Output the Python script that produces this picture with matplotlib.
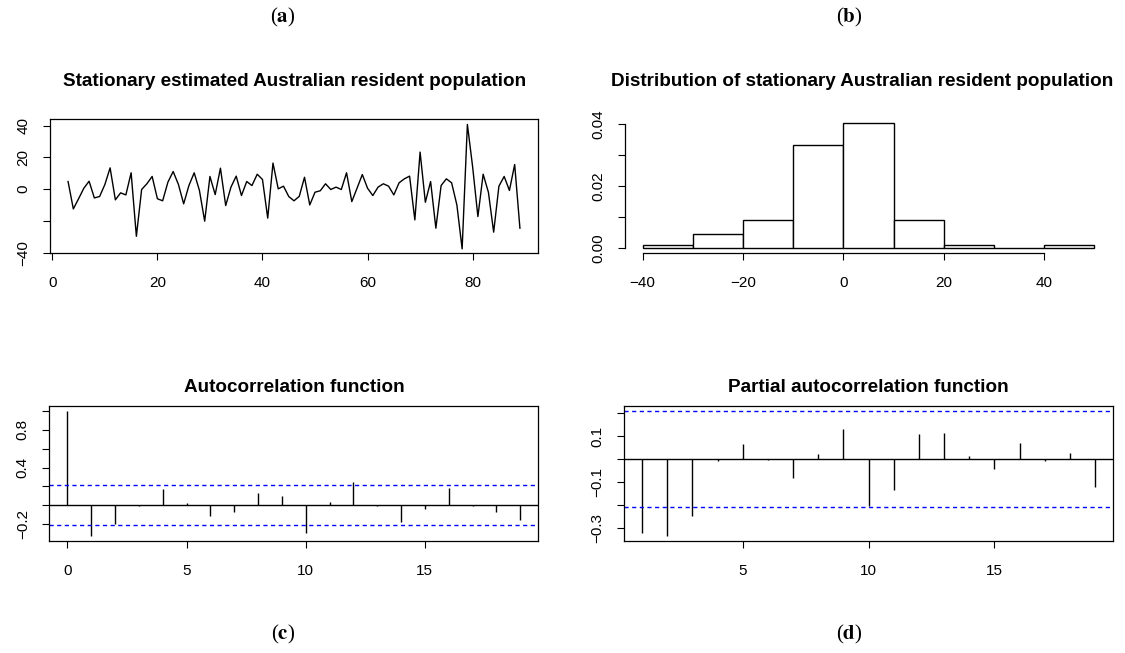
import numpy as np
import matplotlib
matplotlib.use("Agg")
import matplotlib.pyplot as plt

plt.rcParams['font.family'] = ['Liberation Sans', 'DejaVu Sans']
plt.rcParams['mathtext.fontset'] = 'stix'

# Stationary series (differenced population), t = 3..89
t = np.arange(3, 90)
series = [4.8, -12.4, -6, 0.6, 5, -5.5, -4.6, 2.9, 13.4, -6.7,
          -2.3, -3.6, 10.3, -29.6, -0.2, 3.4, 8, -6, -7.3, 4.4,
          11.1, 3, -9.2, 2.3, 10.3, -0.8, -20.1, 8, -3.4, 13.2,
          -10.3, 1.3, 8.2, -4, 4.8, 2.3, 9.4, 6.1, -18.2, 16.4,
          0.2, 1.9, -4.6, -7.3, -4.5, 7.5, -9.9, -1.9, -1, 3.4,
          -0.2, 1.3, -0.2, 10.3, -7.8, 0.6, 9.2, 0.6, -4, 1.3,
          3.4, 1.9, -3.6, 4, 6.5, 8.2, -19.3, 23.3, -8.2, 4.8,
          -24.5, 2.3, 6.5, 4, -9.9, -37.5, 40.7, 14, -17.2, 9.4,
          -1.9, -27, 1.9, 8, -0.8, 15.5, -24.5]

# Histogram (density, bins of width 10)
bin_left = np.arange(-40, 50, 10)
density = [0.00115, 0.0046, 0.0092, 0.0333, 0.0402, 0.0092, 0.00115, 0.0, 0.00115]

# ACF, lags 0..19
acf_lags = np.arange(0, 20)
acf_vals = [1.0, -0.33, -0.2, -0.01, 0.17, 0.02, -0.11, -0.07, 0.13, 0.10,
            -0.30, 0.036, 0.246, -0.005, -0.175, -0.043, 0.186, -0.01, -0.075, -0.157]

# PACF, lags 1..19
pacf_lags = np.arange(1, 20)
pacf_vals = [-0.323, -0.335, -0.248, -0.007, 0.068, -0.004, -0.084, 0.022, 0.132,
             -0.204, -0.135, 0.109, 0.113, 0.016, -0.042, 0.071, -0.006, 0.025, -0.12]
conf = 0.21

W, H = 1125, 653
fig = plt.figure(figsize=(W / 100, H / 100), dpi=100)


def box(x0, y0, x1, y1):
    # pixel box -> figure fraction
    return [x0 / W, 1 - y1 / H, (x1 - x0) / W, (y1 - y0) / H]


def style(ax, yticks, ylabels):
    ax.set_yticks(yticks)
    ax.set_yticklabels(ylabels)
    ax.tick_params(direction='out', length=5, width=0.8, labelsize=11, colors='black')
    ax.tick_params(axis='x', pad=11.5)
    ax.tick_params(axis='y', pad=9)
    for lbl in ax.get_yticklabels():
        lbl.set_rotation(90)
        lbl.set_va('center')
    for s in ax.spines.values():
        s.set_linewidth(0.9)


# (a) time series
ax1 = fig.add_axes(box(50, 119, 538, 253))
ax1.plot(t, series, color='black', lw=1.0)
ax1.set_xlim(3 - 3.44, 89 + 3.44)
ax1.set_ylim(-40.1, 44.1)
ax1.set_xticks([0, 20, 40, 60, 80])
style(ax1, [-40, -20, 0, 20, 40], ['\u221240', '', '0', '20', '40'])

# (b) histogram
ax2 = fig.add_axes(box(624.5, 118.4, 1112.4, 253.3))
ax2.bar(bin_left, density, width=10, align='edge', facecolor='white',
        edgecolor='black', linewidth=1.0)
ax2.set_xlim(-43.6, 53.6)
ax2.set_ylim(-0.0016, 0.0418)
ax2.set_xticks([-40, -20, 0, 20, 40])
ax2.set_xticklabels(['\u221240', '\u221220', '0', '20', '40'])
style(ax2, [0, 0.01, 0.02, 0.03, 0.04], ['0.00', '', '0.02', '', '0.04'])
ax2.spines['top'].set_visible(False)
ax2.spines['right'].set_visible(False)
ax2.spines['bottom'].set_bounds(-40, 40)
ax2.spines['left'].set_bounds(0, 0.04)

# (c) ACF
ax3 = fig.add_axes(box(49.3, 406, 538.3, 541))
ax3.vlines(acf_lags, 0, acf_vals, color='black', lw=1.0)
ax3.axhline(0, color='black', lw=1.0)
ax3.axhline(conf, color='#0000ff', lw=1.0, ls=(0, (3, 2.5)))
ax3.axhline(-conf, color='#0000ff', lw=1.0, ls=(0, (3, 2.5)))
ax3.set_xlim(-0.76, 19.76)
ax3.set_ylim(-0.38, 1.053)
ax3.set_xticks([0, 5, 10, 15])
style(ax3, [-0.2, 0, 0.2, 0.4, 0.6, 0.8, 1.0],
      ['\u22120.2', '', '', '0.4', '', '0.8', ''])

# (d) PACF
ax4 = fig.add_axes(box(624, 406, 1113.3, 541))
ax4.vlines(pacf_lags, 0, pacf_vals, color='black', lw=1.0)
ax4.axhline(0, color='black', lw=1.0)
ax4.axhline(conf, color='#0000ff', lw=1.0, ls=(0, (3, 2.5)))
ax4.axhline(-conf, color='#0000ff', lw=1.0, ls=(0, (3, 2.5)))
ax4.set_xlim(0.28, 19.72)
ax4.set_ylim(-0.357, 0.232)
ax4.set_xticks([5, 10, 15])
style(ax4, [-0.3, -0.2, -0.1, 0, 0.1, 0.2],
      ['\u22120.3', '', '\u22120.1', '', '0.1', ''])

# titles
titles = [(295, 82, 'Stationary estimated Australian resident population'),
          (862, 82, 'Distribution of stationary Australian resident population'),
          (294, 388, 'Autocorrelation function'),
          (868, 388, 'Partial autocorrelation function')]
for x, y, s in titles:
    fig.text(x / W, 1 - y / H, s, ha='center', va='center',
             fontsize=13.6, fontweight='bold')

# subfigure labels
for x, y, s in [(283, 17, 'a'), (849, 17, 'b'), (283, 634, 'c'), (849, 634, 'd')]:
    fig.text(x / W, 1 - y / H, '($\\mathbf{%s}$)' % s, ha='center', va='center',
             fontsize=15, family='Liberation Serif')

fig.savefig('out.png', dpi=100)
